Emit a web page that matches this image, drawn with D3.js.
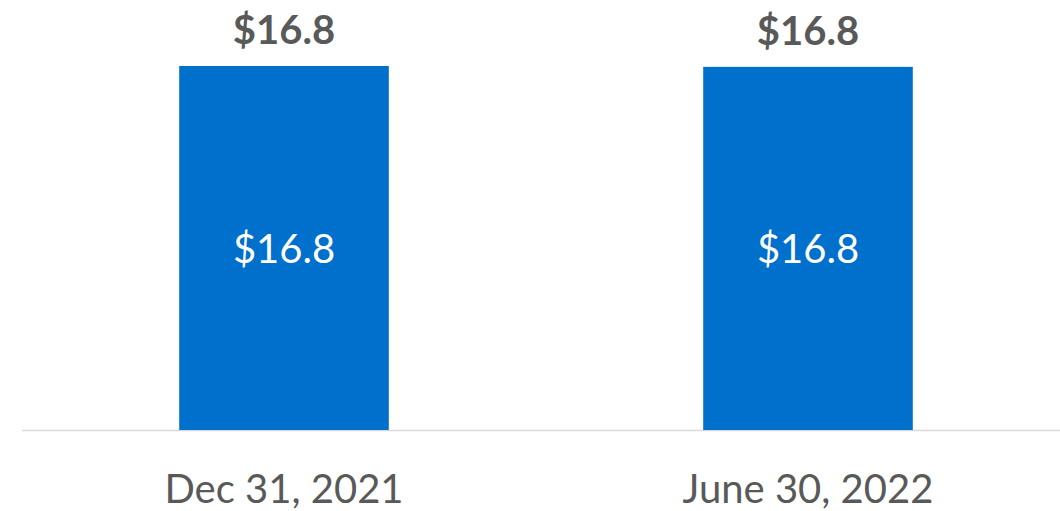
<!DOCTYPE html>
<html><head><meta charset="utf-8">
<script src="https://cdn.jsdelivr.net/npm/d3@7"></script>
<style>body{margin:0;background:#fff}svg{display:block}</style>
</head><body>
<svg id="c" width="1060" height="511"></svg>
<script>
const categories = ["Dec 31, 2021", "June 30, 2022"];
const values = [16.83, 16.79];
const innerLabels = ["$16.8", "$16.8"];
const totalLabels = ["$16.8", "$16.8"];

const svg = d3.select("#c");
const baseline = 430;
const x = d3.scaleBand().domain(categories).range([22, 1070]).paddingInner(0.6).paddingOuter(0.3);
const y = d3.scaleLinear().domain([0, 16.83]).range([baseline, 66]);

svg.append("line").attr("x1", 22).attr("x2", 1060).attr("y1", baseline + 0.5).attr("y2", baseline + 0.5)
  .attr("stroke", "#d9d9d9").attr("stroke-width", 1.5);

const g = svg.selectAll(".bar").data(categories).enter().append("g");
g.append("rect").attr("x", d => x(d)).attr("width", x.bandwidth())
  .attr("y", (d, i) => y(values[i])).attr("height", (d, i) => baseline - y(values[i]))
  .attr("fill", "#0070cd");
g.append("text").attr("x", d => x(d) + x.bandwidth() / 2).attr("y", 263)
  .attr("text-anchor", "middle").attr("font-family", "Lato").attr("font-size", 40)
  .attr("fill", "#fff").text((d, i) => innerLabels[i]);
g.append("text").attr("x", d => x(d) + x.bandwidth() / 2).attr("y", (d, i) => y(values[i]) - 22)
  .attr("text-anchor", "middle").attr("font-family", "Lato").attr("font-weight", "bold").attr("font-size", 40)
  .attr("fill", "#595959").text((d, i) => totalLabels[i]);
g.append("text").attr("x", d => x(d) + x.bandwidth() / 2).attr("y", 503)
  .attr("text-anchor", "middle").attr("font-family", "Lato").attr("font-size", 40)
  .attr("fill", "#595959").text(d => d);
</script>
</body></html>
